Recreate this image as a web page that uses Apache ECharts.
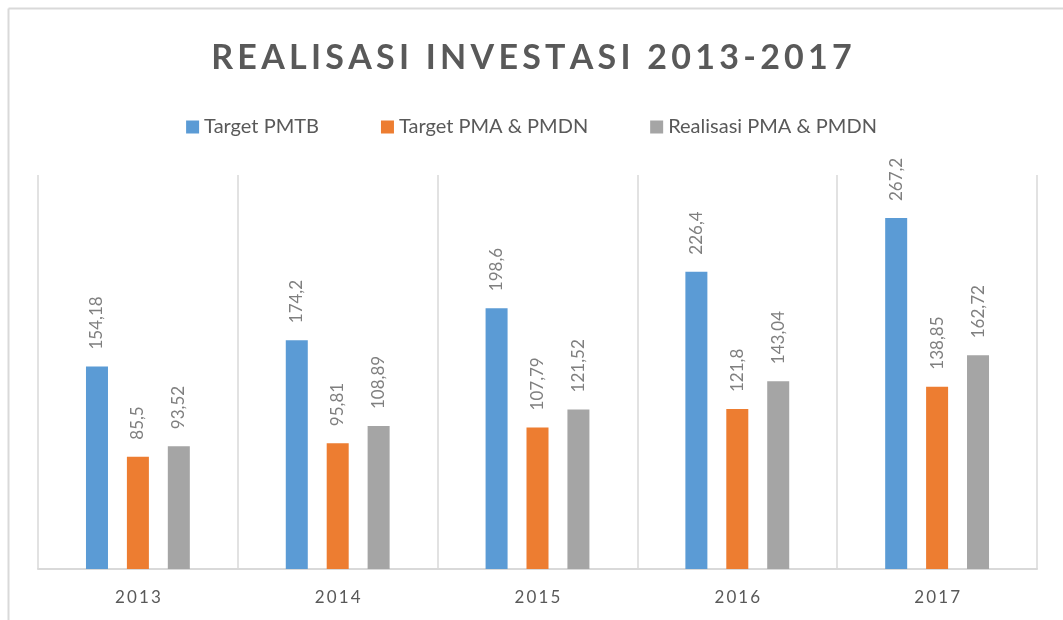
<!DOCTYPE html>
<html>
<head>
<meta charset="utf-8">
<script src="https://cdn.jsdelivr.net/npm/echarts@6/dist/echarts.min.js"></script>
<style>
  html, body { margin: 0; padding: 0; background: #fff; }
  #chart { width: 1063px; height: 620px; }
</style>
</head>
<body>
<div id="chart"></div>
<script>
// data
var years = ['2013', '2014', '2015', '2016', '2017'];
var targetPmtb = [154.18, 174.2, 198.6, 226.4, 267.2];
var targetPma = [85.5, 95.81, 107.79, 121.8, 138.85];
var realisasiPma = [93.52, 108.89, 121.52, 143.04, 162.72];
var seriesNames = ['Target PMTB', 'Target PMA & PMDN', 'Realisasi PMA & PMDN'];
var titleText = 'REALISASI INVESTASI 2013-2017';

var fontName = 'Lato, "Open Sans", sans-serif';

// spasi antar huruf (letterSpacing tidak jalan di title)
function spaced(s) {
  return s.split('').join('\u2009');
}

// label angka pakai koma
function labelFmt(p) {
  return String(p.value).replace('.', ',');
}

function makeSeries(name, data, color) {
  return {
    name: name,
    type: 'bar',
    data: data,
    barWidth: 22,
    barGap: '86%',
    itemStyle: { color: color },
    label: {
      show: true,
      position: 'top',
      rotate: 90,
      align: 'left',
      verticalAlign: 'middle',
      distance: 17,
      color: '#7f7f7f',
      fontSize: 17,
      fontFamily: fontName,
      formatter: labelFmt
    }
  };
}

var myChart = echarts.init(document.getElementById('chart'));
var option = {
  animation: false,
  title: {
    text: spaced(titleText),
    left: 'center',
    top: 36,
    textStyle: {
      color: '#595959',
      fontSize: 34,
      fontWeight: 'bold',
      fontFamily: fontName
    }
  },
  legend: {
    top: 112,
    left: 'center',
    itemWidth: 13,
    itemHeight: 13,
    itemGap: 62,
    icon: 'rect',
    textStyle: { color: '#595959', fontSize: 20, fontFamily: fontName },
    data: seriesNames
  },
  grid: { left: 38, right: 26, top: 175, bottom: 51 },
  xAxis: {
    type: 'category',
    data: years,
    axisLine: { lineStyle: { color: '#d9d9d9', width: 2 } },
    axisTick: { show: false },
    splitLine: { show: true, lineStyle: { color: '#d9d9d9', width: 1.5 } },
    axisLabel: {
      color: '#595959',
      fontSize: 17,
      fontFamily: fontName,
      margin: 20,
      formatter: function (v) { return v.split('').join('\u2009'); }
    }
  },
  yAxis: {
    type: 'value',
    min: 0,
    max: 300,
    show: false,
    splitLine: { show: false }
  },
  series: [
    makeSeries(seriesNames[0], targetPmtb, '#5b9bd5'),
    makeSeries(seriesNames[1], targetPma, '#ed7d31'),
    makeSeries(seriesNames[2], realisasiPma, '#a5a5a5')
  ],
  graphic: [
    { type: 'line', shape: { x1: 8.5, y1: 8.5, x2: 1063, y2: 8.5 }, style: { stroke: '#d9d9d9', lineWidth: 2 } },
    { type: 'line', shape: { x1: 8.5, y1: 8.5, x2: 8.5, y2: 620 }, style: { stroke: '#d9d9d9', lineWidth: 2 } }
  ]
};
myChart.setOption(option);
window.addEventListener('resize', function () { myChart.resize(); });
</script>
</body>
</html>
